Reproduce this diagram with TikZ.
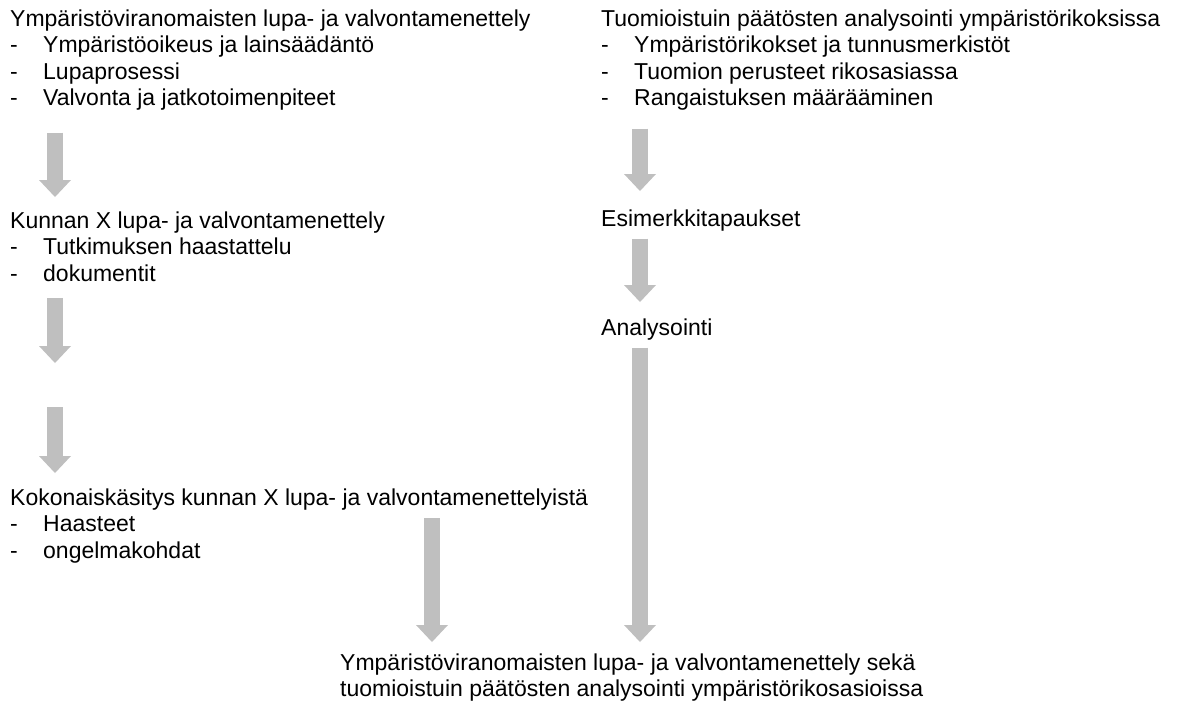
\documentclass[tikz,border=0pt]{standalone}
\usepackage{fontspec}
\setmainfont{Liberation Sans}
\usetikzlibrary{arrows.meta,calc}
\definecolor{nuoliharmaa}{RGB}{191,191,191}
\newcommand{\kohta}[1]{\makebox[33pt][l]{-}#1}
\tikzset{
	teksti/.style={anchor=north west, inner sep=0pt, align=left, font=\fontsize{23}{26.5}\selectfont},
	nuoli/.style={draw=nuoliharmaa, line width=16pt, -{Triangle[length=17pt,width=32pt,line width=0pt]}}
}
\begin{document}
\begin{tikzpicture}[x=1pt,y=-1pt]
	\useasboundingbox (0,0) rectangle (1179,704);

	\path (10,9.5) node[teksti] (viranomainen) {Ympäristöviranomaisten lupa- ja valvontamenettely\\\kohta{Ympäristöoikeus ja lainsäädäntö}\\\kohta{Lupaprosessi}\\\kohta{Valvonta ja jatkotoimenpiteet}};
	\path (10,211.5) node[teksti] (kunta) {Kunnan X lupa- ja valvontamenettely\\\kohta{Tutkimuksen haastattelu}\\\kohta{dokumentit}};
	\path (10,488.5) node[teksti] (kokonais) {Kokonaiskäsitys kunnan X lupa- ja valvontamenettelyistä\\\kohta{Haasteet}\\\kohta{ongelmakohdat}};
	\path (601,9.5) node[teksti] (tuomio) {Tuomioistuin päätösten analysointi ympäristörikoksissa\\\kohta{Ympäristörikokset ja tunnusmerkistöt}\\\kohta{Tuomion perusteet rikosasiassa}\\\kohta{Rangaistuksen määrääminen}};
	\path (601,209.5) node[teksti] (esim) {Esimerkkitapaukset};
	\path (601,318.5) node[teksti] (analyysi) {Analysointi};
	\path (340,653.5) node[teksti] (yhteenveto) {Ympäristöviranomaisten lupa- ja valvontamenettely sekä\\tuomioistuin päätösten analysointi ympäristörikosasioissa};
	\coordinate (vali) at (55,385);

	\path[nuoli] ($(viranomainen.south west)+(45,21.7)$) -- ($(kunta.north west)+(45,-14.5)$);
	\path[nuoli] ($(kunta.south west)+(45,16)$) -- ($(vali)+(0,-22)$);
	\path[nuoli] ($(vali)+(0,22)$) -- ($(kokonais.north west)+(45,-15.5)$);
	\path[nuoli] ($(kokonais.north west)+(422,29.5)$) -- ($(yhteenveto.north west)+(92,-11.5)$);
	\path[nuoli] ($(tuomio.south west)+(39,17.7)$) -- ($(esim.north west)+(39,-18.5)$);
	\path[nuoli] ($(esim.south west)+(39,7.2)$) -- ($(analyysi.north west)+(39,-16.5)$);
	\path[nuoli] ($(analyysi.south west)+(39,7.2)$) -- ($(yhteenveto.north west)+(300,-11.5)$);
\end{tikzpicture}
\end{document}
